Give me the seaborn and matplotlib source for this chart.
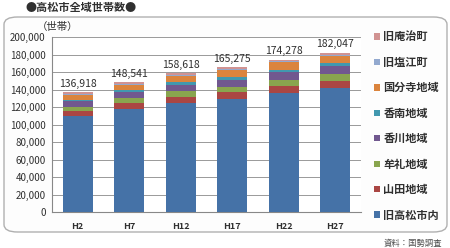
import matplotlib
matplotlib.use("Agg")
import matplotlib.pyplot as plt
from matplotlib.patches import FancyBboxPatch, Patch
import numpy as np
import pandas as pd
import seaborn as sns

years = ["H2", "H7", "H12", "H17", "H22", "H27"]
areas = ["旧高松市内", "山田地域", "牟礼地域", "香川地域", "香南地域", "国分寺地域", "旧塩江町", "旧庵治町"]
takamatsu = [109318, 117491, 124318, 128775, 135578, 141647]
yamada = [6200, 6900, 7500, 7900, 8300, 8600]
mure = [5000, 5600, 6100, 6400, 6800, 7100]
kagawa = [5800, 6800, 7700, 8300, 8900, 9400]
konan = [1900, 2200, 2500, 2800, 3000, 3200]
kokubunji = [5300, 6100, 7000, 7700, 8400, 8900]
shionoe = [1300, 1300, 1300, 1250, 1200, 1150]
aji = [2100, 2150, 2200, 2150, 2100, 2050]
colors = ["#4572A7", "#AA4643", "#89A54E", "#71588F", "#4198AF", "#DB843D", "#93A9CF", "#D19392"]

sns.set_theme(style="white")
plt.rcParams["font.family"] = ["Noto Sans CJK JP", "DejaVu Sans"]

df = pd.DataFrame(dict(zip(areas, [takamatsu, yamada, mure, kagawa, konan, kokubunji, shionoe, aji])), index=years)
cum = df.cumsum(axis=1)

fig = plt.figure(figsize=(4.5, 2.48), dpi=100)
fig.patch.set_facecolor("white")
box = FancyBboxPatch((4 / 450, 1 - 232 / 248), 443 / 450, 215 / 248,
                     boxstyle="round,pad=0,rounding_size=0.03", transform=fig.transFigure,
                     facecolor="#fdfdfd", edgecolor="#b0b0b0", linewidth=1.0, zorder=-1)
fig.patches.append(box)

ax = fig.add_axes([52 / 450, 1 - 212 / 248, 309 / 450, 175 / 248])
ax.set_zorder(1)
ax.set_facecolor("white")

# draw from top layer down so each shorter cumulative bar covers the previous one
for name, col in zip(areas[::-1], colors[::-1]):
    sns.barplot(x=cum.index, y=cum[name].values, color=col, width=0.58,
                saturation=1, ax=ax, zorder=3, edgecolor="none")

totals = df.sum(axis=1).values
for i, t in enumerate(totals):
    ax.text(i, t + 4000, f"{t:,}", ha="center", va="bottom", fontsize=7.5, color="#303030")

ax.set_ylim(0, 200000)
ax.set_xlim(-0.5, 5.5)
ax.set_yticks(np.arange(0, 200001, 20000))
ax.set_yticklabels([f"{v:,}" for v in range(0, 200001, 20000)], fontsize=7, color="#303030")
ax.grid(axis="y", color="#999999", linewidth=0.7, zorder=0)
ax.set_axisbelow(True)
ax.set_xticks(range(len(years)))
ax.set_xticklabels(years, fontsize=6.5, color="#303030", fontweight="bold")
ax.set_xticks(np.arange(-0.5, 6, 1), minor=True)
ax.tick_params(axis="x", which="major", length=0, pad=7)
ax.tick_params(axis="x", which="minor", length=2.5, color="#888888", direction="out")
ax.tick_params(axis="y", length=2.5, color="#888888", direction="out", pad=2)
ax.set_xlabel("")
for s in ["top", "right"]:
    ax.spines[s].set_visible(False)
for s in ["left", "bottom"]:
    ax.spines[s].set_color("#888888")
    ax.spines[s].set_linewidth(0.8)

handles = [Patch(facecolor=c, edgecolor="none") for c in colors[::-1]]
leg = fig.legend(handles, areas[::-1], loc="upper left", bbox_to_anchor=(370 / 450, 1 - 26 / 248),
                 frameon=False, fontsize=8, labelspacing=1.12, handlelength=0.5,
                 handleheight=0.5, handletextpad=0.3, borderaxespad=0)
for t in leg.get_texts():
    t.set_color("#303030")
    t.set_fontweight("bold")

fig.text(25 / 450, 1 - 7 / 248, "●高松市全域世帯数●", fontsize=8, fontstyle="italic",
         fontweight="bold", color="#303030", va="center", ha="left")
fig.text(37 / 450, 1 - 27 / 248, "（世帯）", fontsize=7.5, color="#303030", va="center", ha="left")
fig.text(442 / 450, 1 - 243 / 248, "資料：国勢調査", fontsize=6, color="#505050", va="center", ha="right")

fig.savefig("out.png", dpi=100)
